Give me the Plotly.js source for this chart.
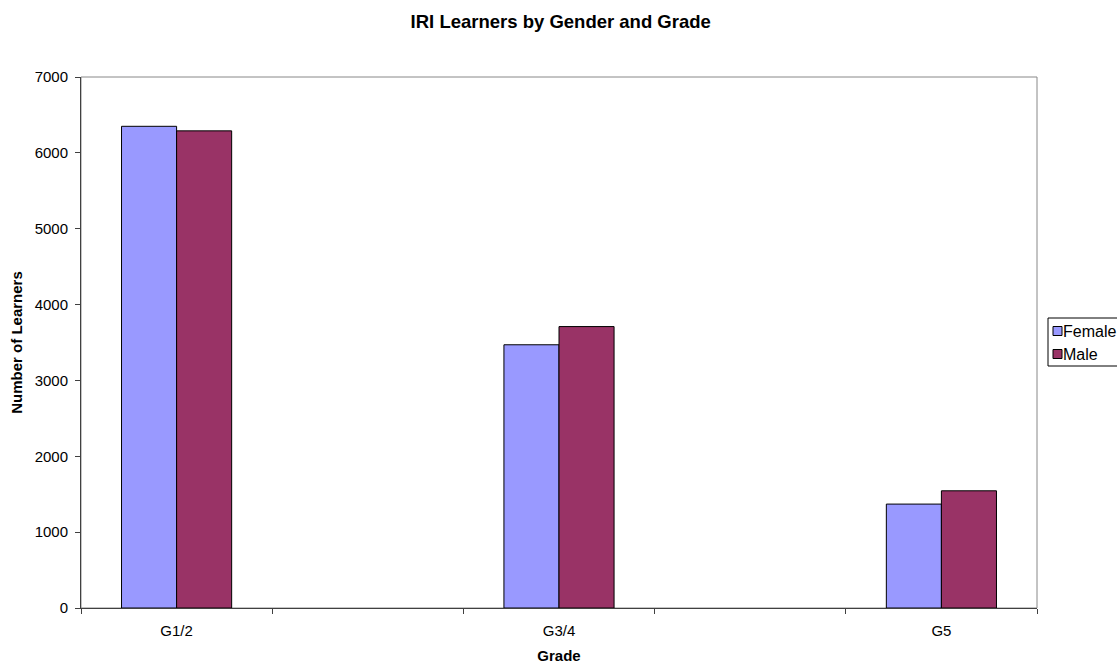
<!DOCTYPE html>
<html>
<head>
<meta charset="utf-8">
<script src="https://cdn.plot.ly/plotly-3.0.1.min.js"></script>
<style>html,body{margin:0;padding:0;background:#fff;overflow:hidden;}#chart{width:1117px;height:664px;}</style>
</head>
<body>
<div id="chart"></div>
<script>
const categories = ["G1/2", "G3/4", "G5"];
const female = [6350, 3470, 1370];
const male = [6290, 3710, 1545];
const seriesNames = ["Female", "Male"];
const seriesColors = ["#9999FF", "#993366"];

// categories sit in every other slot (empty slots between them, as in the original)
const slots = categories.map((c, i) => i * 2);

const font = "Liberation Sans, Arial, sans-serif";

const traces = [
  {type: "bar", name: seriesNames[0], x: slots, y: female,
   marker: {color: seriesColors[0], line: {color: "#000000", width: 1}}},
  {type: "bar", name: seriesNames[1], x: slots, y: male,
   marker: {color: seriesColors[1], line: {color: "#000000", width: 1}}}
];

// hand-drawn legend (the original is clipped at the right page edge)
const L = 81, W = 956, T = 77, H = 531;
const px = v => (v - L) / W;
const py = v => (T + H - v) / H;
const legendShapes = [
  {type: "rect", xref: "paper", yref: "paper", x0: px(1048), x1: px(1130), y0: py(366), y1: py(318),
   line: {color: "#000000", width: 1}, fillcolor: "#ffffff", layer: "above"}
];
const legendAnn = [];
seriesNames.forEach((n, i) => {
  const cy = 331 + i * 23;
  legendShapes.push({type: "rect", xref: "paper", yref: "paper",
    x0: px(1053), x1: px(1062), y0: py(cy + 4.5), y1: py(cy - 4.5),
    line: {color: "#000000", width: 1}, fillcolor: seriesColors[i], layer: "above"});
  legendAnn.push({xref: "paper", yref: "paper", x: px(1061), y: py(cy), xanchor: "left", yanchor: "middle",
    text: n, showarrow: false, font: {family: font, size: 16, color: "#000"}});
});

const layout = {
  width: 1117, height: 664,
  margin: {l: 81, r: 80, t: 77, b: 56},
  paper_bgcolor: "#ffffff", plot_bgcolor: "#ffffff",
  font: {family: font, size: 15, color: "#000000"},
  title: {text: "<b>IRI Learners by Gender and Grade</b>", font: {family: font, size: 18.5, color: "#000"},
          x: 0.502, xanchor: "center", y: 0.968, yanchor: "middle"},
  barmode: "group",
  bargap: 0.712,
  bargroupgap: 0,
  showlegend: false,
  xaxis: {type: "linear", range: [-0.5, 4.5], tickvals: slots, ticktext: categories,
          ticks: "", showgrid: false, zeroline: false,
          showline: true, linecolor: "#404040", linewidth: 1,
          ticklabelstandoff: 9, automargin: false,
          tickfont: {family: font, size: 15, color: "#000"},
          minor: {tick0: -0.5, dtick: 1, ticks: "outside", ticklen: 5, tickcolor: "#404040", showgrid: false},
          title: {text: "<b>Grade</b>", font: {family: font, size: 15, color: "#000"}, standoff: 14}},
  yaxis: {range: [0, 7000], dtick: 1000, tick0: 0, showgrid: false, zeroline: false,
          showline: true, linecolor: "#404040", linewidth: 1, automargin: false,
          ticks: "outside", ticklen: 5, tickcolor: "#404040", ticklabelstandoff: 4,
          tickfont: {family: font, size: 15, color: "#000"},
          title: {text: "<b>Number of Learners</b>", font: {family: font, size: 15, color: "#000"}, standoff: 8}},
  shapes: [{type: "rect", xref: "paper", yref: "paper", x0: 0, x1: 1, y0: 0, y1: 1,
            line: {color: "#888888", width: 1}, fillcolor: "rgba(0,0,0,0)", layer: "below"}].concat(legendShapes),
  annotations: legendAnn
};

Plotly.newPlot("chart", traces, layout, {displayModeBar: false, staticPlot: true});
</script>
</body>
</html>
